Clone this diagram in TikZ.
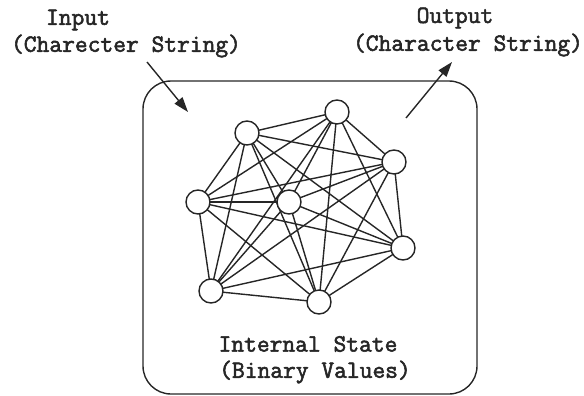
\documentclass[tikz,border=0pt]{standalone}
\usepackage{fontspec}
\newfontfamily\labelfont[RawFeature={embolden=2.2}]{Latin Modern Mono}
\usetikzlibrary{arrows.meta,backgrounds}
\tikzset{
  label text/.style={font=\labelfont\fontsize{24.8}{27}\selectfont, inner sep=0pt, text=black!85},
  unit/.style={circle, draw=black!85, line width=1.4pt, fill=white, minimum size=24pt, inner sep=0pt},
  link/.style={draw=black!85, line width=1.4pt},
  frame/.style={draw=black!85, line width=1.4pt, rounded corners=28pt},
  io arrow/.style={draw=black!85, line width=1.4pt, -{Triangle[length=15pt,width=10pt]}}
}
\begin{document}
\begin{tikzpicture}[x=1pt,y=-1pt]
  \useasboundingbox (0,0) rectangle (584,396);

  % outer boundary of the network
  \draw[frame] (143,81) rectangle (477,394);

  % units of the network
  \node[unit] (n1) at (337,112) {};
  \node[unit] (n2) at (247,133) {};
  \node[unit] (n3) at (394,162) {};
  \node[unit] (n4) at (198,202) {};
  \node[unit] (n5) at (289,202) {};
  \node[unit] (n6) at (403,248) {};
  \node[unit] (n7) at (211,291) {};
  \node[unit] (n8) at (319,302) {};

  % every unit is linked to every other one; links sit behind the units
  \begin{scope}[on background layer]
    \foreach \i in {1,...,8} {
      \foreach \j in {1,...,8} {
        \ifnum\i<\j
          \draw[link] (n\i.center) -- (n\j.center);
        \fi
      }
    }
  \end{scope}

  % labels
  \node[label text] (inA) at (78,20) {Input};
  \node[label text] (inB) at (126,46) {(Charecter String)};
  \node[label text] (outA) at (455,18) {Output};
  \node[label text] (outB) at (468,45) {(Character String)};
  \node[label text] (stA) at (308,344) {Internal State};
  \node[label text] (stB) at (315,372) {(Binary Values)};

  % input and output arrows
  \coordinate (inTail) at (147,62);
  \coordinate (inHead) at (188,112);
  \coordinate (outTail) at (406,118);
  \coordinate (outHead) at (452,62);
  \draw[io arrow] (inTail) -- (inHead);
  \draw[io arrow] (outTail) -- (outHead);
\end{tikzpicture}
\end{document}
